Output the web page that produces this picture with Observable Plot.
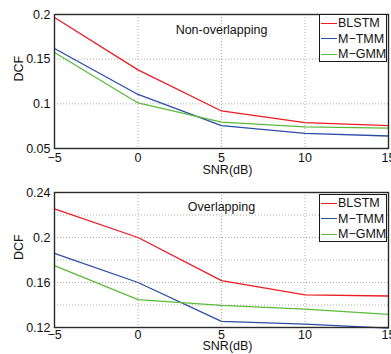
<!DOCTYPE html>
<html>
<head>
<meta charset="utf-8">
<script src="https://cdn.jsdelivr.net/npm/d3@7"></script>
<script src="https://cdn.jsdelivr.net/npm/@observablehq/plot@0.6"></script>
<style>
  body { margin: 0; background: #fff; }
  #wrap { position: relative; width: 391px; height: 354px; overflow: hidden; font-family: "Liberation Sans", Arial, sans-serif; }
  .panel { position: relative; width: 391px; height: 177px; }
  .legend { position: absolute; left: 319px; width: 66px; height: 46px; border: 1.5px solid #1a1a1a; background: #fff; font-size: 12.5px; color: #111; }
  .legend .row { position: absolute; left: 1px; height: 16px; display: flex; align-items: center; }
  .legend .sw { width: 16px; height: 0; border-top: 1.3px solid; margin-right: 1px; }
</style>
</head>
<body>
<div id="wrap"></div>
<script>
const snr = [-5, 0, 5, 10, 15];
const seriesNames = ["BLSTM", "M\u2212TMM", "M\u2212GMM"];
const seriesColors = ["#ec1c24", "#2c4ca6", "#5dbb3c"];

// Non-overlapping
const nonBLSTM = [0.1966, 0.138, 0.092, 0.079, 0.0755];
const nonTMM   = [0.162, 0.1105, 0.0755, 0.067, 0.064];
const nonGMM   = [0.1575, 0.101, 0.0795, 0.0742, 0.0727];

// Overlapping
const ovBLSTM = [0.2254, 0.200, 0.1617, 0.149, 0.148];
const ovTMM   = [0.1858, 0.160, 0.1254, 0.123, 0.1195];
const ovGMM   = [0.175, 0.1447, 0.1396, 0.1364, 0.1316];

const xTicks = [-5, 0, 5, 10, 15];
const nonYTicks = [0.05, 0.1, 0.15, 0.2];
const nonYGrid = [0.1, 0.15];
const ovYTicks = [0.12, 0.16, 0.2, 0.24];
const ovYGrid = [0.14, 0.16, 0.18, 0.2, 0.22];

const fmt = d => d < 0 ? "\u2212" + String(+(-d).toFixed(2)) : String(+d.toFixed(2));

function rows(vals) {
  const out = [];
  vals.forEach((arr, si) => arr.forEach((v, i) => out.push({x: snr[i], y: v, s: seriesNames[si]})));
  return out;
}

function panel(cfg) {
  const data = rows(cfg.vals);
  const font = "Liberation Sans, Arial, sans-serif";
  const p = Plot.plot({
    width: 391,
    height: 177,
    marginLeft: 54,
    marginRight: 3,
    marginTop: cfg.mt,
    marginBottom: cfg.mb,
    style: {fontFamily: font, fontSize: "12.5px", color: "#111", background: "#fff"},
    x: {domain: [-5, 15]},
    y: {domain: cfg.ydom},
    color: {domain: seriesNames, range: seriesColors},
    marks: [
      Plot.gridX([0, 5, 10], {stroke: "#aaa", strokeOpacity: 1, strokeDasharray: "1,2"}),
      Plot.gridY(cfg.ygrid, {stroke: "#aaa", strokeOpacity: 1, strokeDasharray: "1,2"}),
      Plot.line(data, {x: "x", y: "y", z: "s", stroke: "s", strokeWidth: 1.3}),
      Plot.frame({stroke: "#2a2a2a", strokeWidth: 1.4}),
      Plot.axisX(xTicks, {tickSize: 0, tickPadding: cfg.xpad, tickFormat: fmt, fontSize: 12.5, label: null}),
      Plot.axisY(cfg.yticks, {tickSize: 0, tickPadding: 4, tickFormat: fmt, fontSize: 12.5, label: null}),
      Plot.text([cfg.title], {frameAnchor: "top", dy: cfg.tdy, dx: 0, text: d => d, fontSize: 12.5, fill: "#111"}),
      Plot.text(["SNR(dB)"], {frameAnchor: "bottom", dy: cfg.sdy, dx: 6, text: d => d, fontSize: 12.5, fill: "#111"}),
      Plot.text(["DCF"], {frameAnchor: "left", dx: -36, rotate: -90, text: d => d, fontSize: 12.5, fill: "#111"})
    ]
  });
  const div = document.createElement("div");
  div.className = "panel";
  div.appendChild(p);
  const leg = document.createElement("div");
  leg.className = "legend";
  leg.style.top = cfg.legTop + "px";
  seriesNames.forEach((n, i) => {
    const r = document.createElement("div");
    r.className = "row";
    r.style.top = (i * 15.5 + 0) + "px";
    const sw = document.createElement("span");
    sw.className = "sw";
    sw.style.borderColor = seriesColors[i];
    const t = document.createElement("span");
    t.textContent = n;
    r.appendChild(sw); r.appendChild(t);
    leg.appendChild(r);
  });
  div.appendChild(leg);
  return div;
}

const wrap = document.getElementById("wrap");
wrap.appendChild(panel({
  vals: [nonBLSTM, nonTMM, nonGMM], ydom: [0.05, 0.2], yticks: nonYTicks, ygrid: nonYGrid,
  mt: 14, mb: 29, xpad: 5, title: "Non-overlapping", tdy: 11, sdy: 25, legTop: 14
}));
wrap.appendChild(panel({
  vals: [ovBLSTM, ovTMM, ovGMM], ydom: [0.12, 0.24], yticks: ovYTicks, ygrid: ovYGrid,
  mt: 15, mb: 27, xpad: 3, title: "Overlapping", tdy: 10, sdy: 22, legTop: 17
}));
</script>
</body>
</html>
